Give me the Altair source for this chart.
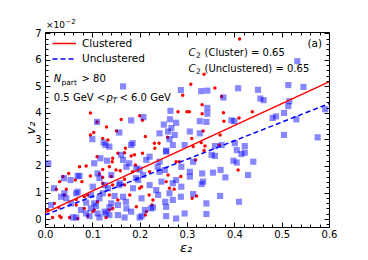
import altair as alt
import pandas as pd

# ---------------- data ----------------
red_eps = [0.411, 0.336, 0.308, 0.359, 0.373, 0.291, 0.332, 0.332, 0.377, 0.305, 0.438, 0.378, 0.41,
           0.281, 0.3, 0.161, 0.2, 0.206, 0.096, 0.11, 0.13,
           0.096, 0.103, 0.122, 0.133, 0.11, 0.143, 0.073, 0.087, 0.05, 0.038, 0.031, 0.064, 0.096, 0.115,
           0.122, 0.024, 0.041, 0.02, 0.006, 0.066, 0.031, 0.052, 0.069, 0.104, 0.111, 0.136, 0.143, 0.129,
           0.09, 0.083, 0.122, 0.143, 0.14,
           0.241, 0.168, 0.182, 0.189, 0.206, 0.232, 0.154, 0.159, 0.221, 0.277, 0.26, 0.168, 0.204, 0.263,
           0.179, 0.228, 0.193, 0.214,
           0.334, 0.37, 0.31, 0.33, 0.338, 0.336, 0.318, 0.408, 0.311, 0.32,
           0.151, 0.17, 0.212, 0.231, 0.259, 0.191, 0.185, 0.168, 0.15, 0.136, 0.142, 0.122, 0.078, 0.045,
           0.066, 0.09, 0.083, 0.101, 0.029, 0.016, 0.034, 0.136, 0.154, 0.2, 0.22, 0.226, 0.212, 0.256,
           0.273, 0.287, 0.284, 0.313, 0.368]
red_v = [6.79, 5.46, 5.08, 4.94, 4.62, 4.67, 4.31, 3.97, 4.01, 4.04, 4.04, 3.69, 3.81,
         4.04, 4.04, 3.75, 3.89, 3.72, 4.0, 3.66, 3.47,
         3.17, 3.26, 3.04, 2.98, 2.35, 2.29, 1.97, 2.0, 1.72, 1.6, 1.41, 1.47, 1.62, 1.7,
         1.57, 1.12, 0.91, 0.59, 0.34, 0.53, 0.11, 0.06, 0.02, 0.34, 0.65, 0.91, 0.4, 0.06,
         0.11, 0.84, 1.35, 1.28, 1.6,
         2.86, 2.5, 2.38, 2.42, 2.48, 2.67, 2.48, 1.82, 1.78, 2.16, 1.66, 1.28, 1.22, 1.16,
         0.91, 0.72, 0.46, 0.28,
         3.32, 3.17, 3.04, 2.88, 2.75, 2.58, 2.23, 1.85, 0.78, 0.87,
         3.32, 2.67, 3.11, 2.86, 3.08, 2.04, 1.78, 1.5, 1.85, 1.97, 2.16, 1.87, 1.41, 1.12,
         0.74, 0.91, 0.4, 0.28, 0.44, 0.06, 0.06, 0.34, 0.72, 1.16, 0.91, 0.53, 0.15, 1.41,
         1.12, 1.6, 2.16, 2.73, 2.79]

blue_eps = [0.533, 0.514, 0.546, 0.462, 0.455, 0.516, 0.514, 0.505, 0.488, 0.481, 0.531, 0.592, 0.505,
            0.576, 0.408, 0.45, 0.33, 0.343, 0.377, 0.343, 0.343, 0.327, 0.341, 0.394, 0.4, 0.165,
            0.287, 0.265, 0.182, 0.208, 0.251, 0.264, 0.277, 0.267, 0.11,
            0.1, 0.124, 0.136, 0.117, 0.131, 0.104, 0.007, 0.069, 0.04, 0.054, 0.111, 0.019, 0.069,
            0.034, 0.045, 0.013, 0.055, 0.076, 0.059, 0.087, 0.097, 0.111, 0.126, 0.104, 0.115, 0.097,
            0.122, 0.14, 0.136, 0.126, 0.133,
            0.157, 0.185, 0.242, 0.26, 0.274, 0.263, 0.295, 0.221, 0.256, 0.165, 0.172, 0.193, 0.242,
            0.253, 0.288, 0.207, 0.197, 0.242, 0.158, 0.186, 0.221, 0.246, 0.277, 0.288, 0.165, 0.204,
            0.239, 0.27, 0.154, 0.172, 0.211, 0.256, 0.228, 0.154, 0.168, 0.204, 0.256, 0.277, 0.295,
            0.306, 0.327, 0.359, 0.373, 0.401, 0.422, 0.405, 0.415, 0.422, 0.352, 0.359, 0.313, 0.398,
            0.405, 0.44, 0.371, 0.381, 0.355, 0.332, 0.306, 0.306, 0.429, 0.334, 0.331, 0.313, 0.341,
            0.37, 0.41, 0.341,
            0.224, 0.254, 0.235, 0.263, 0.27, 0.287, 0.101, 0.115, 0.073, 0.041, 0.066, 0.087, 0.108,
            0.066, 0.094, 0.115, 0.129, 0.136, 0.182, 0.2, 0.147, 0.171, 0.157, 0.14, 0.192, 0.2,
            0.178, 0.214, 0.238, 0.256, 0.27, 0.182, 0.161, 0.128]
blue_v = [5.95, 5.05, 4.98, 4.48, 4.54, 4.44, 4.26, 4.0, 3.87, 3.81, 3.76, 4.14, 3.17,
          3.08, 4.93, 4.87, 4.82, 4.84, 4.58, 4.19, 3.97, 3.69, 3.66, 3.72, 3.69, 5.0,
          4.86, 4.08, 3.72, 3.84, 3.56, 3.76, 3.63, 3.43, 3.66,
          3.01, 2.88, 2.73, 2.29, 2.2, 2.1, 2.1, 1.63, 1.54, 1.47, 1.72, 1.16, 1.03,
          0.84, 0.78, 0.53, 0.59, 0.34, 0.06, 0.21, 0.4, 0.21, 0.28, 0.59, 0.78, 0.91,
          0.97, 0.59, 0.15, 1.28, 1.16,
          3.26, 2.86, 3.23, 3.3, 3.17, 3.01, 2.79, 2.35, 2.54, 2.23, 1.97, 1.91, 2.16,
          1.85, 1.97, 1.66, 1.47, 1.78, 1.35, 1.16, 1.28, 1.41, 1.47, 1.22, 0.84, 0.78,
          0.91, 0.72, 0.53, 0.4, 0.34, 0.46, 0.44, 0.15, 0.06, 0.11, 0.11, 0.02, 0.21,
          3.3, 3.23, 2.75, 2.79, 2.86, 2.75, 2.6, 2.45, 2.5, 2.42, 2.38, 2.16, 2.2,
          2.13, 2.16, 1.85, 1.57, 1.75, 1.72, 1.78, 1.6, 1.66, 1.41, 1.32, 0.94, 0.59,
          0.87, 0.65, 0.19,
          0.4, 0.65, 1.09, 0.97, 1.35, 0.84, 1.22, 1.54, 1.62, 0.97, 0.97, 0.62, 0.49,
          0.06, 0.11, 0.06, 0.21, 0.44, 0.28, 0.06, 0.87, 0.65, 1.28, 1.66, 1.54, 1.87,
          2.1, 2.23, 1.97, 2.58, 2.79, 2.79, 2.42, 2.79]

fit_eps = [0.0, 0.6]
fit_clustered = [0.23, 5.17]
fit_unclustered = [0.15, 4.35]

x_major = [0.0, 0.1, 0.2, 0.3, 0.4, 0.5, 0.6]
x_minor = [0.02, 0.04, 0.06, 0.08, 0.12, 0.14, 0.16, 0.18, 0.22, 0.24, 0.26, 0.28,
           0.32, 0.34, 0.36, 0.38, 0.42, 0.44, 0.46, 0.48, 0.52, 0.54, 0.56, 0.58]
y_major = [0, 1, 2, 3, 4, 5, 6, 7]
y_minor = [-0.2, 0.2, 0.4, 0.6, 0.8, 1.2, 1.4, 1.6, 1.8, 2.2, 2.4, 2.6, 2.8, 3.2, 3.4, 3.6, 3.8,
           4.2, 4.4, 4.6, 4.8, 5.2, 5.4, 5.6, 5.8, 6.2, 6.4, 6.6, 6.8]

# ---------------- chart ----------------
FONT = "DejaVu Sans"
red_df = pd.DataFrame({"eps": red_eps, "v": red_v})
blue_df = pd.DataFrame({"eps": blue_eps, "v": blue_v})
fit_df = pd.DataFrame({"eps": fit_eps, "red": fit_clustered, "blue": fit_unclustered})

xs = alt.Scale(domain=[0, 0.6], nice=False, zero=False)
ys = alt.Scale(domain=[-0.3, 7.05], nice=False, zero=False)

common = dict(grid=False, domain=False, tickColor="black", labelColor="black",
              labelFont=FONT, labelFontSize=10, labelFlush=False, labelOverlap=False,
              title=None)


def xaxis(orient, values, size, labels=False):
    kw = dict(common)
    if labels:
        kw.update(labels=True, format=".1f", labelPadding=2)
    else:
        kw.update(labels=False)
    return alt.Axis(orient=orient, values=values, tickSize=size, offset=-size, **kw)


def yaxis(orient, values, size, labels=False):
    kw = dict(common)
    if labels:
        kw.update(labels=True, format="d", labelPadding=4)
    else:
        kw.update(labels=False)
    return alt.Axis(orient=orient, values=values, tickSize=size, offset=-size, **kw)


red_pts = alt.Chart(red_df).mark_circle(size=12, color="#ff0000", opacity=1).encode(
    x=alt.X("eps:Q", scale=xs, axis=xaxis("bottom", x_major, 5, True)),
    y=alt.Y("v:Q", scale=ys, axis=yaxis("left", y_major, 5, True)),
)
blue_pts = alt.Chart(blue_df).mark_square(size=38, color="#0000ff", opacity=0.47).encode(
    x=alt.X("eps:Q", scale=xs, axis=xaxis("top", x_major, 5)),
    y=alt.Y("v:Q", scale=ys, axis=yaxis("right", y_major, 5)),
)
red_fit = alt.Chart(fit_df).mark_line(color="#ff0000", strokeWidth=1.5).encode(
    x=alt.X("eps:Q", scale=xs, axis=xaxis("bottom", x_minor, 3)),
    y=alt.Y("red:Q", scale=ys, axis=yaxis("left", y_minor, 3)),
)
blue_fit = alt.Chart(fit_df).mark_line(color="#0000ff", strokeWidth=1.5, strokeDash=[5, 3]).encode(
    x=alt.X("eps:Q", scale=xs, axis=xaxis("top", x_minor, 3)),
    y=alt.Y("blue:Q", scale=ys, axis=yaxis("right", y_minor, 3)),
)

one = pd.DataFrame({"k": [0]})


def txt(s, x, y, size=10, italic=False, align="left", angle=0):
    kw = dict(text=s, font=FONT, fontSize=size, align=align, baseline="middle", color="black")
    if italic:
        kw["fontStyle"] = "italic"
    if angle:
        kw["angle"] = angle
    return alt.Chart(one).mark_text(**kw).encode(x=alt.value(x), y=alt.value(y))


leg_red = alt.Chart(one).mark_rule(color="#ff0000", strokeWidth=1.5).encode(
    x=alt.value(7.5), x2=alt.value(31), y=alt.value(11.5))
leg_blue = alt.Chart(one).mark_rule(color="#0000ff", strokeWidth=1.5, strokeDash=[5, 3]).encode(
    x=alt.value(7.5), x2=alt.value(31), y=alt.value(27))

texts = [
    txt("Clustered", 37, 11.5, size=10.5),
    txt("Unclustered", 37, 27, size=10.5),
    txt("N", 8.8, 47.3, italic=True),
    txt("part", 16.5, 50.5, size=7.5),
    txt("> 80", 36.5, 47.3),
    txt("0.5 GeV <", 8.8, 65.7),
    txt("p", 61.5, 65.7, italic=True),
    txt("T", 67.5, 68.5, size=7.5, italic=True),
    txt("< 6.0 GeV", 74.5, 65.7),
    txt("C", 143.5, 21.3, italic=True),
    txt("2", 151, 24.3, size=7.5),
    txt("(Cluster) = 0.65", 159.5, 21.3),
    txt("C", 143.5, 37, italic=True),
    txt("2", 151, 40, size=7.5),
    txt("(Unclustered) = 0.65", 159.5, 37),
    txt("(a)", 262.5, 12.3, size=10.5),
    txt("×10", 1, -7, size=9),
    txt("−2", 20.5, -10, size=7),
    # axis titles
    txt("ε₂", 141, 215.5, size=13, italic=True, align="center"),
    txt("v₂", -14, 96, size=13, italic=True, align="center", angle=270),
]

chart = alt.layer(red_pts, blue_pts, red_fit, blue_fit, leg_red, leg_blue, *texts).resolve_axis(
    x="independent", y="independent"
).properties(
    width=284, height=195,
    padding={"left": 37, "top": 24, "right": 31, "bottom": 28},
    autosize=alt.AutoSizeParams(type="none"),
    background="white",
).configure_view(stroke="black", strokeWidth=1)

chart.save("out.html", embed_options={"renderer": "svg", "actions": False})
